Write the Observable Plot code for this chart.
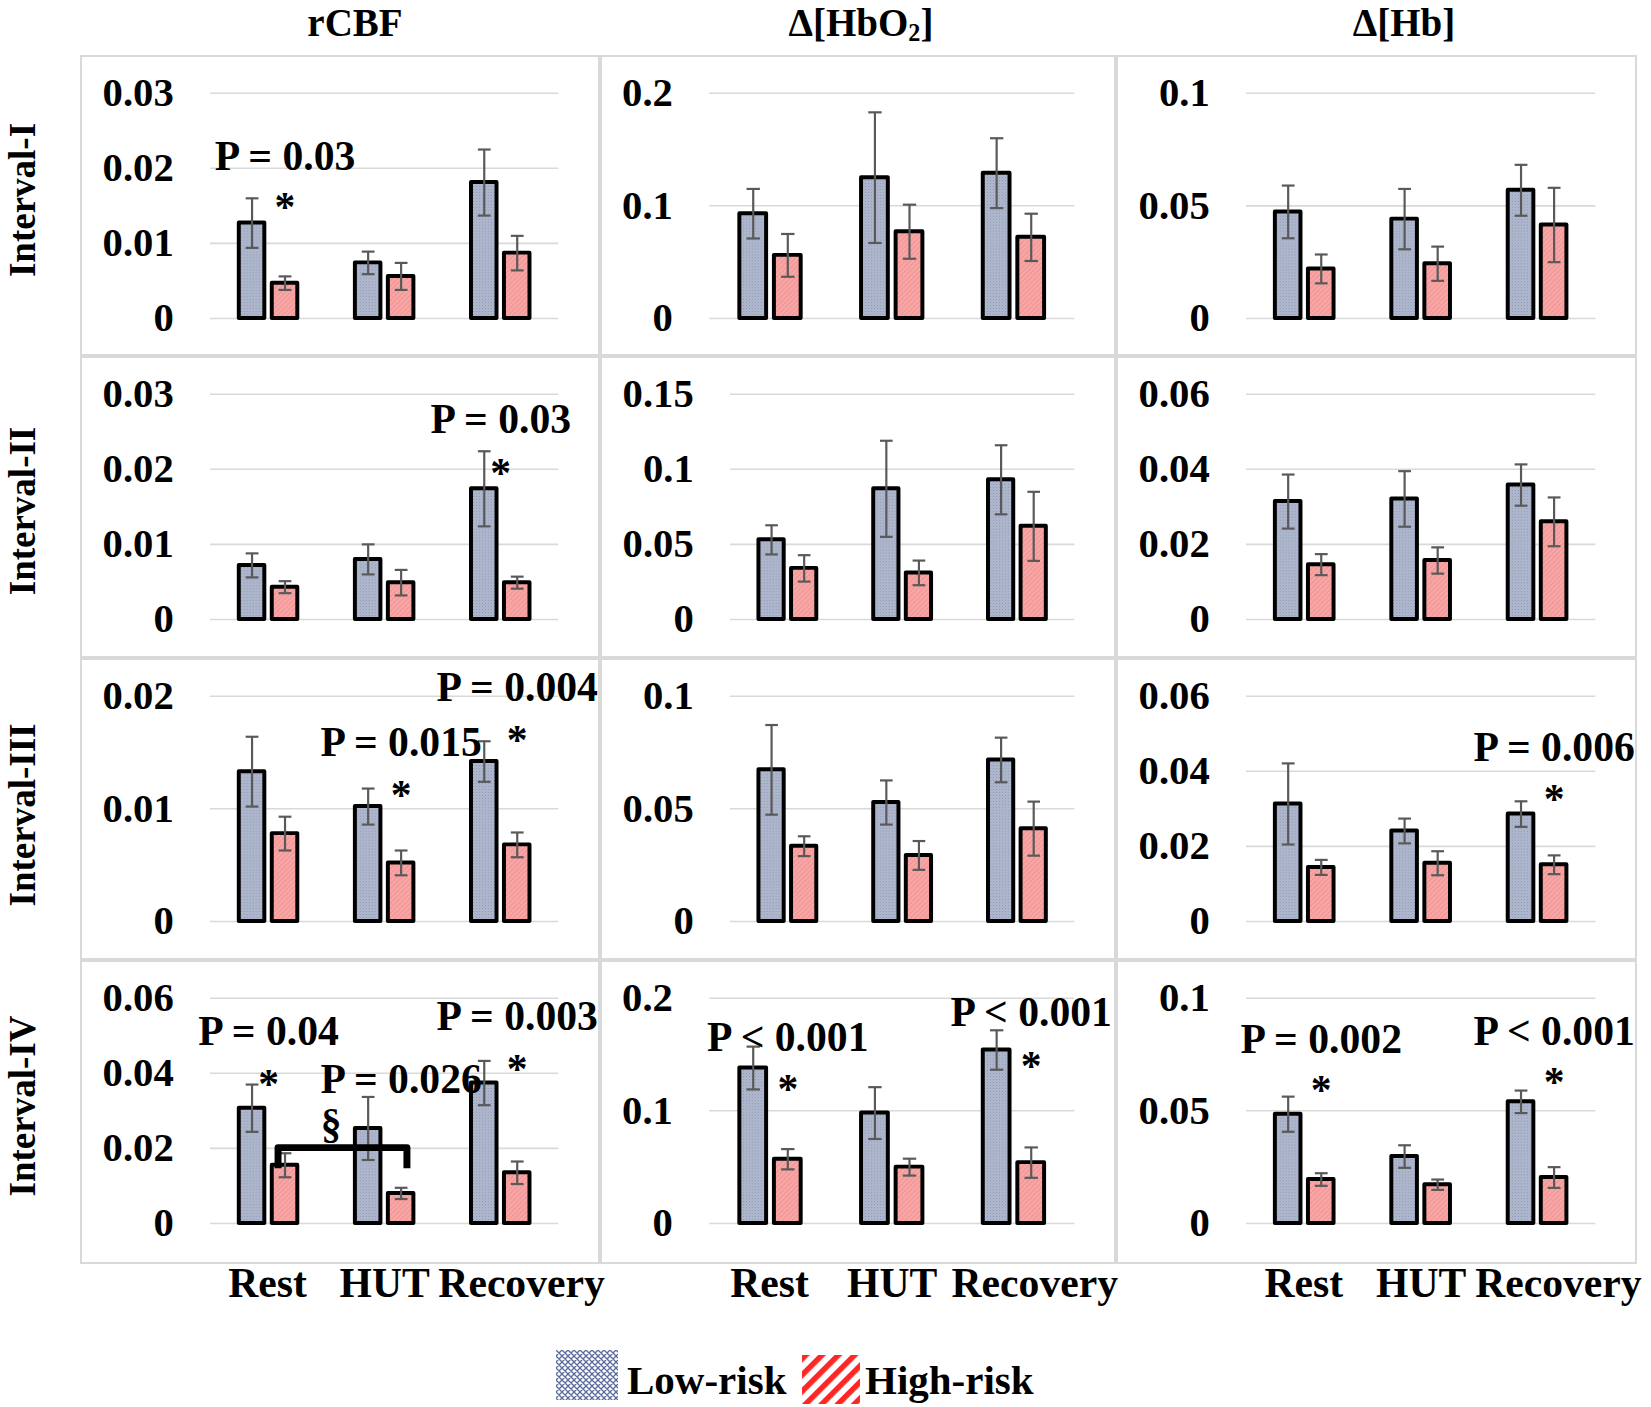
<!DOCTYPE html>
<html>
<head>
<meta charset="utf-8">
<script src="https://cdn.jsdelivr.net/npm/d3@7"></script>
<script src="https://cdn.jsdelivr.net/npm/@observablehq/plot@0.6"></script>
<style>
html, body { margin: 0; padding: 0; background: #fff; }
#root { position: relative; width: 1651px; height: 1407px; overflow: hidden;
  font-family: "Liberation Serif", "Times New Roman", serif; font-weight: bold; color: #000; }
.panel { position: absolute; box-sizing: border-box; border: 2px solid #d9d9d9; }
.panel svg { position: absolute; left: -2px; top: -2px; overflow: visible; }
.coltitle { position: absolute; top: 0; font-size: 39px; line-height: 45px; transform: translateX(-50%); white-space: nowrap; }
.coltitle sub { font-size: 0.62em; vertical-align: -0.2em; line-height: 0; }
.rowlabel { position: absolute; font-size: 37px; line-height: 43px; transform: translate(-50%, -50%) rotate(-90deg); white-space: nowrap; }
.legtext { position: absolute; font-size: 41px; line-height: 50px; white-space: nowrap; }
.swatch { position: absolute; }
</style>
</head>
<body>
<svg width="0" height="0" style="position:absolute">
  <defs>
    <pattern id="lowFill" patternUnits="userSpaceOnUse" width="3" height="3">
      <rect width="3" height="3" fill="#b0b9ce"></rect>
      <rect width="1" height="1" fill="#8894b0"></rect>
      <rect x="1.5" y="1.5" width="1" height="1" fill="#9ba6bf"></rect>
    </pattern>
    <pattern id="highFill" patternUnits="userSpaceOnUse" width="3.5" height="3.5" patternTransform="rotate(45)">
      <rect width="3.5" height="3.5" fill="#f8a6a6"></rect>
      <rect width="1" height="3.5" fill="#f09292"></rect>
    </pattern>
    <pattern id="lowLegend" patternUnits="userSpaceOnUse" width="6" height="6">
      <rect width="6" height="6" fill="#ffffff"></rect>
      <path d="M0,0L6,6M6,0L0,6M-1,5L1,7M5,-1L7,1M-1,1L1,-1M5,7L7,5" stroke="#5a6b9d" stroke-width="1.3"></path>
    </pattern>
    <pattern id="highLegend" patternUnits="userSpaceOnUse" width="11.5" height="11.5" patternTransform="rotate(45)">
      <rect width="11.5" height="11.5" fill="#ffffff"></rect>
      <rect width="5.5" height="11.5" fill="#ff2626"></rect>
    </pattern>
  </defs>
</svg>
<div id="root"></div>
<script>
// ---------------- data ----------------
const categories = ["Rest", "HUT", "Recovery"];
const groups = ["Low-risk", "High-risk"];
const measures = ["rCBF", "Δ[HbO2]", "Δ[Hb]"];
const intervals = ["Interval-I", "Interval-II", "Interval-III", "Interval-IV"];

// y-axis tick values per [interval][measure]
const yTicks = [
  [[0, 0.01, 0.02, 0.03], [0, 0.1, 0.2], [0, 0.05, 0.1]],
  [[0, 0.01, 0.02, 0.03], [0, 0.05, 0.1, 0.15], [0, 0.02, 0.04, 0.06]],
  [[0, 0.01, 0.02], [0, 0.05, 0.1], [0, 0.02, 0.04, 0.06]],
  [[0, 0.02, 0.04, 0.06], [0, 0.1, 0.2], [0, 0.05, 0.1]]
];

// means and error-bar half lengths, [interval][measure][category]
const lowRiskMean = [
  [[0.0127, 0.0074, 0.0181], [0.093, 0.125, 0.129], [0.0473, 0.0441, 0.0569]],
  [[0.0072, 0.0080, 0.0174], [0.053, 0.087, 0.093], [0.0314, 0.0321, 0.0358]],
  [[0.0133, 0.0102, 0.0142], [0.0673, 0.0528, 0.0717], [0.0313, 0.0241, 0.0286]],
  [[0.0307, 0.0253, 0.0374], [0.138, 0.098, 0.154], [0.0485, 0.0297, 0.0540]]
];
const lowRiskErr = [
  [[0.0033, 0.0015, 0.0044], [0.022, 0.058, 0.031], [0.0117, 0.0134, 0.0113]],
  [[0.0016, 0.0020, 0.0050], [0.0097, 0.032, 0.023], [0.0072, 0.0074, 0.0055]],
  [[0.0031, 0.0016, 0.0018], [0.0199, 0.0098, 0.0099], [0.0108, 0.0033, 0.0034]],
  [[0.0063, 0.0084, 0.0059], [0.019, 0.023, 0.0175], [0.0078, 0.0050, 0.0050]]
];
const highRiskMean = [
  [[0.0047, 0.0056, 0.0087], [0.056, 0.077, 0.072], [0.0220, 0.0243, 0.0415]],
  [[0.0043, 0.0049, 0.0049], [0.034, 0.031, 0.062], [0.0146, 0.0157, 0.0260]],
  [[0.0078, 0.0052, 0.0068], [0.0334, 0.0293, 0.0412], [0.0144, 0.0155, 0.0151]],
  [[0.0155, 0.0080, 0.0135], [0.057, 0.050, 0.054], [0.0195, 0.0172, 0.0204]]
];
const highRiskErr = [
  [[0.0009, 0.0018, 0.0023], [0.019, 0.024, 0.021], [0.0064, 0.0076, 0.0165]],
  [[0.0008, 0.0017, 0.0008], [0.0088, 0.0082, 0.023], [0.0028, 0.0035, 0.0065]],
  [[0.0015, 0.0011, 0.0011], [0.0044, 0.0064, 0.0120], [0.0020, 0.0032, 0.0025]],
  [[0.0032, 0.0015, 0.0030], [0.009, 0.0075, 0.0135], [0.0028, 0.0023, 0.0046]]
];

// significance labels: anchored to a category and a bar ("Low", "Mid", "High", "After")
const pLabels = [
  {interval: 0, measure: 0, category: "Rest", at: "High", y: 0.0216, text: "P = 0.03"},
  {interval: 1, measure: 0, category: "Recovery", at: "Mid", y: 0.0266, text: "P = 0.03"},
  {interval: 2, measure: 0, category: "HUT", at: "High", y: 0.0159, text: "P = 0.015"},
  {interval: 2, measure: 0, category: "Recovery", at: "High", y: 0.0208, text: "P = 0.004"},
  {interval: 2, measure: 2, category: "Recovery", at: "High", y: 0.0463, text: "P = 0.006"},
  {interval: 3, measure: 0, category: "Rest", at: "Mid", y: 0.0510, text: "P = 0.04"},
  {interval: 3, measure: 0, category: "HUT", at: "High", y: 0.0383, text: "P = 0.026"},
  {interval: 3, measure: 0, category: "Rest", at: "After", y: 0.0264, text: "§"},
  {interval: 3, measure: 0, category: "Recovery", at: "High", y: 0.0550, text: "P = 0.003"},
  {interval: 3, measure: 1, category: "Rest", at: "High", y: 0.165, text: "P < 0.001"},
  {interval: 3, measure: 1, category: "Recovery", at: "High", y: 0.187, text: "P < 0.001"},
  {interval: 3, measure: 2, category: "Rest", at: "High", y: 0.0816, text: "P = 0.002"},
  {interval: 3, measure: 2, category: "Recovery", at: "High", y: 0.0853, text: "P < 0.001"}
];
const stars = [
  {interval: 0, measure: 0, category: "Rest", at: "High", y: 0.0157},
  {interval: 1, measure: 0, category: "Recovery", at: "Mid", y: 0.0204},
  {interval: 2, measure: 0, category: "HUT", at: "High", y: 0.0118},
  {interval: 2, measure: 0, category: "Recovery", at: "High", y: 0.0167},
  {interval: 2, measure: 2, category: "Recovery", at: "High", y: 0.0342},
  {interval: 3, measure: 0, category: "Rest", at: "Mid", y: 0.0387},
  {interval: 3, measure: 0, category: "Recovery", at: "High", y: 0.0427},
  {interval: 3, measure: 1, category: "Rest", at: "High", y: 0.125},
  {interval: 3, measure: 1, category: "Recovery", at: "High", y: 0.145},
  {interval: 3, measure: 2, category: "Rest", at: "High", y: 0.0622},
  {interval: 3, measure: 2, category: "Recovery", at: "High", y: 0.0654}
];
// bracket between high-risk bars (§)
const brackets = [
  {interval: 3, measure: 0, from: "Rest", to: "HUT", y: 0.0202, drop: 0.0055}
];

// ---------------- layout (px) ----------------
const colX = [80, 600, 1116], colW = [520, 516, 521];
const rowY = [55, 356, 658, 960], rowH = [301, 302, 302, 304];
const TITLE_X = [355, 861, 1404];
const CAT_LABEL_DX = [-1, 0, 21];
const FONT = '"Liberation Serif", "Times New Roman", serif';
// bar geometry within one category band (fractions of the band)
const BAR = {"Low-risk": [0.248, 0.468], "High-risk": [0.532, 0.752]};
const CAP = 0.055;
const barMid = g => (BAR[g][0] + BAR[g][1]) / 2;
const anchorX = (cat, at) => {
  const i = categories.indexOf(cat);
  if (at === "High") return i + barMid("High-risk");
  if (at === "Low") return i + barMid("Low-risk");
  if (at === "After") return i + 1.04;
  return i + 0.5;
};

const ctx = document.createElement("canvas").getContext("2d");
ctx.font = "bold 41px " + FONT;
const fmt = d => String(d);

const root = document.getElementById("root");

function makePanel(r, c) {
  const w = colW[c], h = rowH[r];
  const ticks = yTicks[r][c];
  const labelW = Math.max(...ticks.map(t => ctx.measureText(fmt(t)).width));
  const ml = Math.round(22 + labelW + 37);
  const rows = [];
  categories.forEach((cat, i) => {
    rows.push({cat, i, group: "Low-risk", mean: lowRiskMean[r][c][i], err: lowRiskErr[r][c][i]});
    rows.push({cat, i, group: "High-risk", mean: highRiskMean[r][c][i], err: highRiskErr[r][c][i]});
  });
  const low = rows.filter(d => d.group === "Low-risk");
  const high = rows.filter(d => d.group === "High-risk");
  const here = a => a.interval === r && a.measure === c;
  const ps = pLabels.filter(here);
  const ss = stars.filter(here);
  const bracketPts = [];
  brackets.filter(here).forEach((b, k) => {
    const x1 = categories.indexOf(b.from) + BAR["High-risk"][0] + 0.05;
    const x2 = categories.indexOf(b.to) + BAR["High-risk"][1] - 0.06;
    bracketPts.push({k, x: x1, y: b.y - b.drop}, {k, x: x1, y: b.y}, {k, x: x2, y: b.y}, {k, x: x2, y: b.y - b.drop});
  });
  const isBottom = r === intervals.length - 1;
  const catMarks = isBottom ? categories.map((cat, i) =>
    Plot.text([cat], {x: () => i + 0.5, frameAnchor: "bottom", text: d => d, dy: 61, dx: CAT_LABEL_DX[i],
      fontSize: 42, fontWeight: "bold", fill: "#000", textAnchor: "middle", lineAnchor: "middle"})) : [];
  return Plot.plot({
    width: w, height: h,
    marginLeft: ml, marginRight: 38, marginTop: 38, marginBottom: h - 38 - 227,
    style: {fontFamily: FONT, fontWeight: "bold", fontSize: "41px", color: "#000", background: "transparent", overflow: "visible"},
    x: {type: "linear", domain: [0, categories.length], axis: null},
    y: {domain: [0, ticks[ticks.length - 1]], ticks, tickFormat: fmt, tickSize: 0, tickPadding: 37, label: null},
    marks: [
      Plot.ruleY(ticks, {stroke: "#d9d9d9", strokeWidth: 1.6}),
      Plot.rect(low, {x1: d => d.i + BAR[d.group][0], x2: d => d.i + BAR[d.group][1], y1: 0, y2: "mean",
        fill: "url(#lowFill)", stroke: "#000", strokeWidth: 4, strokeLinejoin: "round"}),
      Plot.rect(high, {x1: d => d.i + BAR[d.group][0], x2: d => d.i + BAR[d.group][1], y1: 0, y2: "mean",
        fill: "url(#highFill)", stroke: "#000", strokeWidth: 4, strokeLinejoin: "round"}),
      Plot.ruleX(rows, {x: d => d.i + barMid(d.group), y1: d => d.mean - d.err, y2: d => d.mean + d.err,
        stroke: "#595959", strokeWidth: 2.2}),
      Plot.link(rows, {x1: d => d.i + barMid(d.group) - CAP, x2: d => d.i + barMid(d.group) + CAP,
        y1: d => d.mean + d.err, y2: d => d.mean + d.err, stroke: "#595959", strokeWidth: 2.2}),
      Plot.link(rows, {x1: d => d.i + barMid(d.group) - CAP, x2: d => d.i + barMid(d.group) + CAP,
        y1: d => d.mean - d.err, y2: d => d.mean - d.err, stroke: "#595959", strokeWidth: 2.2}),
      Plot.line(bracketPts, {x: "x", y: "y", z: "k", stroke: "#000", strokeWidth: 7,
        strokeLinejoin: "round", strokeLinecap: "butt"}),
      Plot.text(ps, {x: d => anchorX(d.category, d.at), y: "y", text: "text", fontSize: 42,
        fontWeight: "bold", fill: "#000", textAnchor: "middle", lineAnchor: "middle"}),
      Plot.text(ss, {x: d => anchorX(d.category, d.at), y: "y", text: () => "*", fontSize: 42,
        fontWeight: "bold", fill: "#000", textAnchor: "middle", lineAnchor: "middle", dy: 7}),
      ...catMarks
    ]
  });
}

// column titles
measures.forEach((m, c) => {
  const t = document.createElement("div");
  t.className = "coltitle";
  t.innerHTML = m.replace(/O2/, "O<sub>2</sub>");
  t.style.left = TITLE_X[c] + "px";
  root.appendChild(t);
});
// row labels
const ROW_LABEL_Y = [200, 511, 815, 1106];
intervals.forEach((lab, r) => {
  const t = document.createElement("div");
  t.className = "rowlabel";
  t.textContent = lab;
  t.style.left = "22px";
  t.style.top = ROW_LABEL_Y[r] + "px";
  root.appendChild(t);
});
// panels
intervals.forEach((_, r) => {
  measures.forEach((_, c) => {
    const p = document.createElement("div");
    p.className = "panel";
    p.style.left = colX[c] + "px";
    p.style.top = rowY[r] + "px";
    p.style.width = colW[c] + "px";
    p.style.height = rowH[r] + "px";
    p.appendChild(makePanel(r, c));
    root.appendChild(p);
  });
});
// legend
const legend = [
  {label: groups[0], fill: "url(#lowLegend)", x: 556, w: 62, y: 1350, h: 50, tx: 627},
  {label: groups[1], fill: "url(#highLegend)", x: 802, w: 58, y: 1355, h: 49, tx: 865}
];
legend.forEach(l => {
  const s = document.createElementNS("http://www.w3.org/2000/svg", "svg");
  s.setAttribute("class", "swatch");
  s.setAttribute("width", l.w); s.setAttribute("height", l.h);
  s.style.left = l.x + "px"; s.style.top = l.y + "px";
  const rc = document.createElementNS("http://www.w3.org/2000/svg", "rect");
  rc.setAttribute("width", l.w); rc.setAttribute("height", l.h); rc.setAttribute("fill", l.fill);
  s.appendChild(rc);
  root.appendChild(s);
  const t = document.createElement("div");
  t.className = "legtext";
  t.textContent = l.label;
  t.style.left = l.tx + "px";
  t.style.top = "1355px";
  root.appendChild(t);
});
</script>
</body>
</html>
